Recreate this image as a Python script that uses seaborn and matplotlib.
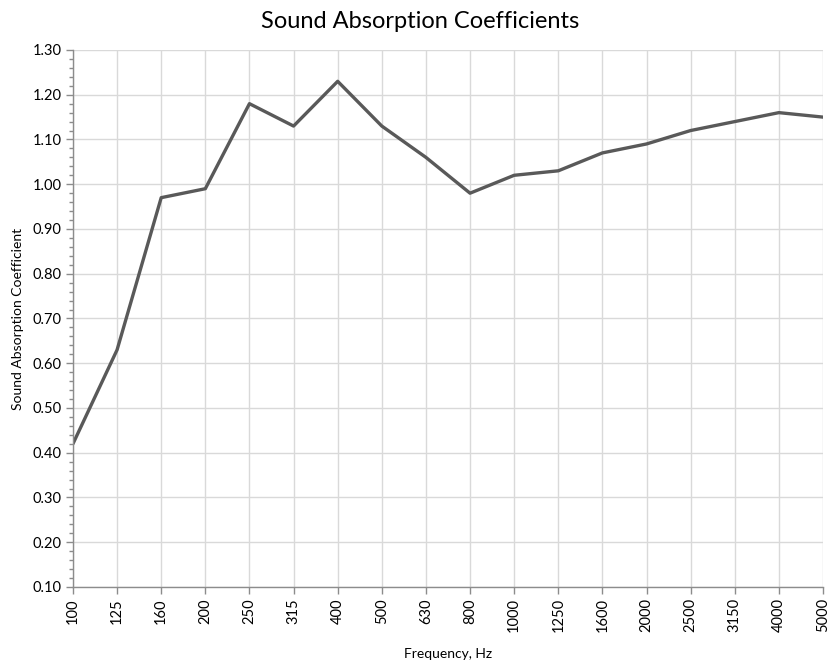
import matplotlib
matplotlib.use("Agg")
import matplotlib.pyplot as plt
import seaborn as sns
import pandas as pd
from matplotlib.ticker import MultipleLocator

frequencies = ["100", "125", "160", "200", "250", "315", "400", "500", "630", "800",
               "1000", "1250", "1600", "2000", "2500", "3150", "4000", "5000"]
coefficients = [0.42, 0.63, 0.97, 0.99, 1.18, 1.13, 1.23, 1.13, 1.06, 0.98,
                1.02, 1.03, 1.07, 1.09, 1.12, 1.14, 1.16, 1.15]

sns.set_style("white")
plt.rcParams['font.family'] = ['Lato', 'DejaVu Sans']

df = pd.DataFrame({"idx": range(len(frequencies)), "coef": coefficients})

fig = plt.figure(figsize=(8.33, 6.62), dpi=100)
ax = fig.add_axes([0.0876, 0.1133, 0.9004, 0.8112])

sns.lineplot(data=df, x="idx", y="coef", ax=ax, color="#595959", linewidth=2.4)

ax.set_xlim(0, len(frequencies) - 1)
ax.set_ylim(0.10, 1.30)
ax.set_xticks(range(len(frequencies)))
ax.set_xticklabels(frequencies, rotation=90, fontsize=10.5)
ax.yaxis.set_major_locator(MultipleLocator(0.1))
ax.yaxis.set_minor_locator(MultipleLocator(0.02))
ax.yaxis.set_major_formatter(matplotlib.ticker.FormatStrFormatter("%.2f"))
for lab in ax.get_yticklabels():
    lab.set_fontsize(10.5)

ax.grid(True, which="major", color="#d9d9d9", linewidth=1)
for s in ["top", "right"]:
    ax.spines[s].set_visible(False)
for s in ["left", "bottom"]:
    ax.spines[s].set_color("#8c8c8c")
    ax.spines[s].set_linewidth(1)
ax.tick_params(axis="both", which="major", direction="out", length=5, color="#8c8c8c",
               width=1, labelcolor="#000000", left=True, bottom=True, pad=3)
ax.tick_params(axis="y", which="minor", direction="out", length=3, color="#8c8c8c",
               width=1, left=True)

ax.set_xlabel("Frequency, Hz", fontsize=10, labelpad=11, color="#000000")
ax.set_ylabel("Sound Absorption Coefficient", fontsize=10, labelpad=6, color="#000000")
fig.suptitle("Sound Absorption Coefficients", fontsize=17, x=0.504, y=0.967,
             va="center", color="#000000")

fig.savefig("out.png", dpi=100)
